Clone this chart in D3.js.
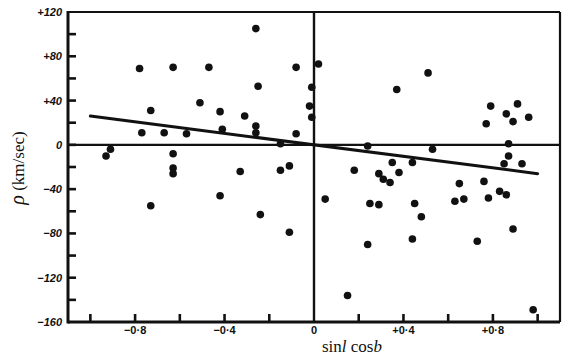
<!DOCTYPE html>
<html>
<head>
<meta charset="utf-8">
<script src="https://cdn.jsdelivr.net/npm/d3@7"></script>
<style>
  html, body { margin: 0; padding: 0; background: #fff; }
  svg { display: block; }
</style>
</head>
<body>
<svg id="chart" width="570" height="361"></svg>
<script>
// ---- data ----
const starX = [-0.78,-0.63,-0.47,-0.73,-0.51,-0.42,-0.77,-0.67,-0.57,-0.41,
  -0.91,-0.93,-0.63,-0.63,-0.63,-0.26,-0.08,0.02,-0.25,-0.01,
  -0.02,-0.01,-0.31,-0.26,-0.26,-0.08,0.24,0.37,-0.33,-0.15,
  -0.11,0.18,0.35,0.51,0.79,0.91,0.86,0.96,0.89,0.77,
  0.87,0.53,0.87,0.44,0.85,0.93,0.38,-0.42,-0.73,-0.24,
  -0.11,0.05,0.29,0.31,0.34,0.25,0.29,0.24,0.15,0.65,
  0.76,0.83,0.86,0.78,0.67,0.63,0.45,0.48,0.44,0.73,
  0.89,0.98,-0.15];
const starRho = [69,70,70,31,38,30,11,11,10,14,
  -4,-10,-8,-21,-26,105,70,73,53,52,
  35,25,26,17,11,10,-1,50,-24,-23,
  -19,-23,-16,65,35,37,28,25,21,19,
  1,-4,-10,-16,-17,-17,-25,-46,-55,-63,
  -79,-49,-26,-31,-34,-53,-54,-90,-136,-35,
  -33,-42,-45,-48,-49,-51,-53,-65,-85,-87,
  -76,-149,1];
const fitX = [-1.0, 1.0];
const fitRho = [26, -26];
const yTickValues = [120, 80, 40, 0, -40, -80, -120, -160];
const yTickLabels = ["+120", "+80", "+40", "0", "\u221240", "\u221280", "\u2212120", "\u2212160"];
const xTickValues = [-0.8, -0.4, 0, 0.4, 0.8];
const xTickLabels = ["\u22120\u00b78", "\u22120\u00b74", "0", "+0\u00b74", "+0\u00b78"];
const yMinorTicks = d3.range(-140, 120, 20);
const xMinorTicks = [-1.0, -0.8, -0.6, -0.4, -0.2, 0.2, 0.4, 0.6, 0.8, 1.0];

// ---- layout ----
const svg = d3.select("#chart");
const pL = 68, pR = 560, pT = 12, pB = 322;
const x = d3.scaleLinear().domain([-1.1, 1.1]).range([pL, pR]);
const y = d3.scaleLinear().domain([-160, 120]).range([pB, pT]);
const ink = "#111";

// y ticks (inward)
svg.append("g").selectAll("line").data(yMinorTicks).join("line")
  .attr("x1", pL).attr("x2", pL + 8)
  .attr("y1", d => y(d)).attr("y2", d => y(d))
  .attr("stroke", ink).attr("stroke-width", 2.6);

// x ticks (inward)
svg.append("g").selectAll("line").data(xMinorTicks).join("line")
  .attr("x1", d => x(d)).attr("x2", d => x(d))
  .attr("y1", pB).attr("y2", pB - 8)
  .attr("stroke", ink).attr("stroke-width", 2.6);

// zero lines
svg.append("line").attr("x1", pL).attr("x2", pR)
  .attr("y1", y(0)).attr("y2", y(0)).attr("stroke", ink).attr("stroke-width", 2.4);
svg.append("line").attr("x1", x(0)).attr("x2", x(0))
  .attr("y1", pT).attr("y2", pB).attr("stroke", ink).attr("stroke-width", 2.4);

// frame
svg.append("line").attr("x1", pL).attr("x2", pR).attr("y1", pT).attr("y2", pT)
  .attr("stroke", ink).attr("stroke-width", 2.2);
svg.append("line").attr("x1", pR).attr("x2", pR).attr("y1", pT).attr("y2", pB)
  .attr("stroke", ink).attr("stroke-width", 2.2);
svg.append("line").attr("x1", pL).attr("x2", pR).attr("y1", pB).attr("y2", pB)
  .attr("stroke", ink).attr("stroke-width", 3);
svg.append("line").attr("x1", pL).attr("x2", pL).attr("y1", pT - 1).attr("y2", pB + 1.5)
  .attr("stroke", ink).attr("stroke-width", 3);

// regression line
svg.append("line")
  .attr("x1", x(fitX[0])).attr("y1", y(fitRho[0]))
  .attr("x2", x(fitX[1])).attr("y2", y(fitRho[1]))
  .attr("stroke", ink).attr("stroke-width", 3).attr("stroke-linecap", "round");

// points
const pts = starX.map((v, i) => ({ x: v, y: starRho[i] }));
svg.append("g").selectAll("circle").data(pts).join("circle")
  .attr("cx", d => x(d.x)).attr("cy", d => y(d.y)).attr("r", 3.8)
  .attr("fill", ink);

// y tick labels
svg.append("g").selectAll("text").data(yTickValues).join("text")
  .attr("x", pL - 6).attr("y", d => y(d) + 4)
  .attr("text-anchor", "end")
  .attr("font-family", "Liberation Sans, Arial, sans-serif")
  .attr("font-size", 11).attr("font-weight", "bold").attr("font-style", "italic")
  .attr("fill", ink)
  .text((d, i) => yTickLabels[i]);

// x tick labels
svg.append("g").selectAll("text").data(xTickValues).join("text")
  .attr("x", d => x(d)).attr("y", 334)
  .attr("text-anchor", "middle")
  .attr("font-family", "Liberation Sans, Arial, sans-serif")
  .attr("font-size", 11).attr("font-weight", "bold")
  .attr("fill", ink)
  .text((d, i) => xTickLabels[i]);

// x axis title
const xt = svg.append("text").attr("x", 352).attr("y", 352)
  .attr("text-anchor", "middle")
  .attr("font-family", "Liberation Serif, 'DejaVu Serif', serif")
  .attr("font-size", 17).attr("fill", ink);
xt.append("tspan").text("sin");
xt.append("tspan").attr("font-style", "italic").text("l");
xt.append("tspan").text(" cos");
xt.append("tspan").attr("font-style", "italic").text("b");

// y axis title
const yt = svg.append("text")
  .attr("transform", "translate(24,168) rotate(-90)")
  .attr("text-anchor", "middle")
  .attr("font-family", "Liberation Serif, 'DejaVu Serif', serif")
  .attr("font-size", 17).attr("fill", ink);
yt.append("tspan").attr("font-style", "italic").attr("font-size", 20).text("\u03c1");
yt.append("tspan").text(" (km/sec)");
</script>
</body>
</html>
